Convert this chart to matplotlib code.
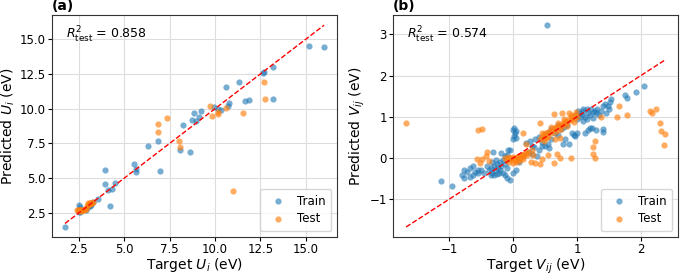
import matplotlib
matplotlib.use("Agg")
import matplotlib.pyplot as plt
import numpy as np

# --- (a) Hubbard U_i ---
u_train_true = [1.75, 2.5, 2.55, 2.5, 2.6, 2.7, 2.9, 3.0, 3.1, 3.2, 3.3, 3.55, 3.95, 3.95,
                4.22, 4.13, 4.31, 4.5, 5.54, 5.67, 5.67, 6.32, 6.85, 6.97, 8.1, 8.24,
                8.64, 8.71, 8.84, 8.93, 9.13, 9.24, 9.96, 10.16, 10.35, 10.63, 10.69,
                10.78, 11.32, 11.63, 11.87, 12.64, 12.7, 13.17, 13.19, 15.18, 16.0]
u_train_pred = [1.5, 3.06, 2.9, 2.6, 2.55, 2.7, 2.75, 2.95, 3.0, 3.1, 3.3, 3.54, 5.59, 4.6,
                2.98, 4.14, 4.24, 4.68, 6.05, 5.69, 5.45, 7.34, 7.7, 5.52, 7.02, 8.83,
                6.92, 9.22, 9.68, 9.1, 9.39, 9.8, 10.1, 10.0, 9.9, 11.59, 10.19,
                10.4, 11.95, 10.55, 10.62, 12.6, 12.65, 12.99, 10.67, 14.54, 14.44]
u_test_true = [2.4, 2.45, 2.5, 2.55, 2.6, 2.65, 2.7, 2.75, 2.8, 2.85, 2.9, 2.95, 3.0,
               3.05, 3.1, 3.15, 3.2, 3.25, 3.3, 3.0, 3.1, 2.6, 6.85, 6.85, 7.34, 8.04,
               8.1, 9.75, 9.86, 10.16, 10.16, 10.58, 11.0, 11.54, 12.7, 12.75]
u_test_pred = [2.7, 2.72, 2.65, 2.7, 2.7, 2.68, 2.72, 2.7, 2.75, 2.8, 2.78, 3.0, 3.1,
               3.15, 3.2, 3.15, 3.25, 3.2, 3.3, 3.2, 3.25, 2.75, 8.9, 8.35, 9.32, 7.7,
               7.26, 10.19, 9.51, 9.75, 9.63, 10.07, 4.12, 9.68, 11.95, 10.67]
u_r2 = 0.858

# --- (b) intersite V_ij ---
v_train_true = [0.53, 2.05, 1.92, 1.75, 1.79, 1.54, 1.51, 1.49,
                -1.13, -0.96,
                -0.77, -0.72, -0.67, -0.62, -0.59, -0.54, -0.77, -0.67, -0.62, -0.8, -0.55, -0.5,
                -0.38, -0.35, -0.33, -0.3, -0.28, -0.25, -0.23, -0.2, -0.18, -0.15, -0.32, -0.27,
                -0.22, -0.4, -0.45, -0.12, -0.1, -0.3, -0.2, -0.15, -0.35, -0.25,
                -0.31, -0.18, -0.13, -0.1, -0.05,
                -0.13, -0.1, -0.05, 0.0, 0.05,
                0.02, 0.05, 0.02, 0.04, 0.0, 0.03, 0.0, -0.08,
                0.2, 0.26, 0.33, 0.41, 0.38, 0.1, 0.15, 0.25, 0.3, 0.35, 0.4, 0.45, 0.5, 0.3,
                0.46, 0.56, 0.5, 0.55, 0.6, 0.65, 0.7, 0.75, 0.8, 0.85, 0.6, 0.7, 0.55,
                0.92, 0.97, 0.87, 0.82, 0.78,
                1.02, 1.05, 1.08, 1.1, 1.12, 1.15, 1.18, 1.2, 1.22, 1.25, 1.28, 1.3, 1.32,
                1.35, 1.38, 1.4, 1.44, 1.0, 1.05, 0.98, 1.15, 1.25, 1.45, 1.5, 1.1,
                1.1, 1.2, 1.3, 1.41, 1.23, 1.18, 1.41, 1.12, 1.0, 0.95]
v_train_pred = [3.22, 1.74, 1.61, 1.53, 1.45, 1.43, 1.35, 1.26,
                -0.55, -0.67,
                -0.29, -0.33, -0.25, -0.2, -0.33, -0.37, -0.49, -0.45, -0.41, -0.4, -0.28, -0.3,
                -0.3, -0.25, -0.35, -0.2, -0.3, -0.15, -0.25, -0.1, -0.2, -0.05, -0.1, -0.05,
                -0.35, -0.2, -0.35, -0.15, -0.25, -0.4, -0.3, -0.35, -0.42, -0.38,
                0.14, 0.12, 0.04, 0.08, 0.19,
                -0.41, -0.49, -0.53, -0.37, -0.29,
                0.73, 0.65, 0.53, 0.49, 0.69, 0.61, 0.45, 0.2,
                0.37, 0.41, 0.28, 0.2, 0.04, -0.1, 0.05, 0.15, 0.3, 0.45, 0.5, 0.4, 0.55, 0.1,
                0.29, 0.25, 0.3, 0.35, 0.45, 0.6, 0.55, 0.7, 0.75, 0.8, 0.7, 0.8, 0.6,
                0.61, 0.53, 0.33, 0.45, 0.35,
                1.14, 1.1, 1.05, 1.15, 1.0, 1.2, 1.1, 1.05, 1.2, 1.12, 1.15, 1.1, 1.2,
                1.05, 1.15, 1.25, 1.31, 0.95, 1.0, 1.05, 0.95, 0.98, 1.1, 1.2, 1.2,
                0.9, 0.73, 0.69, 0.71, 0.74, 0.69, 0.64, 0.6, 0.6, 0.55]
v_test_true = [-1.67, -0.55, -0.48,
               -0.4, -0.42, -0.48, -0.56, -0.51, -0.37,
               -0.12, -0.1, -0.08, -0.05, -0.03, 0.0, 0.02, 0.04, 0.06, 0.08, 0.1, 0.12,
               0.14, 0.16, 0.18, 0.2, 0.22, 0.24, -0.06, 0.05, 0.1, 0.0, 0.15,
               0.15, 0.2, 0.3, 0.28, 0.35, 0.42, 0.45, 0.32,
               0.42, 0.45, 0.48, 0.5, 0.52, 0.55, 0.58, 0.6, 0.62, 0.65, 0.68, 0.7, 0.72,
               0.75, 0.78, 0.8, 0.82, 0.85, 0.88, 0.9, 0.92, 0.95, 0.97, 1.0, 0.45, 0.5,
               0.55, 0.6, 0.65, 0.7, 0.75, 0.8, 0.85, 0.9, 0.95, 0.98, 0.88, 0.48,
               0.42, 0.64, 0.77, 0.66, 0.74, 0.69, 0.74, 0.64, 0.9, 0.55,
               1.28, 1.25, 1.25, 1.28, 1.38, 1.62, 1.66, 1.79,
               2.14, 2.18, 2.23, 2.3, 2.31, 2.38, 2.36]
v_test_pred = [0.84, 0.68, 0.71,
               0.14, 0.06, -0.02, -0.02, -0.12, -0.08,
               0.0, -0.05, 0.02, -0.03, 0.0, 0.02, -0.05, 0.0, 0.03, -0.02, 0.05, 0.0,
               0.08, 0.05, 0.1, 0.12, 0.08, 0.15, -0.1, -0.1, -0.08, -0.12, -0.03,
               0.61, 0.33, 0.2, -0.1, -0.12, -0.15, -0.02, 0.08,
               0.45, 0.5, 0.55, 0.6, 0.52, 0.62, 0.65, 0.6, 0.7, 0.72, 0.75, 0.68, 0.8,
               0.78, 0.85, 0.82, 0.9, 0.88, 0.95, 0.92, 1.0, 0.98, 1.05, 1.0, 0.6, 0.48,
               0.5, 0.75, 0.62, 0.85, 0.7, 0.95, 0.78, 1.05, 0.88, 1.12, 1.1, 0.42,
               0.86, 1.06, 1.1, 0.45, 0.49, 0.1, 0.0, -0.12, 0.0, 0.08,
               0.42, 0.28, 0.1, 0.0, 1.0, 1.0, 1.25, 1.04,
               1.13, 1.1, 1.18, 0.86, 0.65, 0.59, 0.31]
v_r2 = 0.574

panels = [
    ("(a)", u_train_true, u_train_pred, u_test_true, u_test_pred, u_r2,
     "Target $U_i$ (eV)", "Predicted $U_i$ (eV)"),
    ("(b)", v_train_true, v_train_pred, v_test_true, v_test_pred, v_r2,
     "Target $V_{ij}$ (eV)", "Predicted $V_{ij}$ (eV)"),
]

fig = plt.figure(figsize=(6.85, 2.75), dpi=100)
ax_a = fig.add_axes([0.076, 0.138, 0.416, 0.807])
ax_b = fig.add_axes([0.574, 0.138, 0.416, 0.807])

for ax, (tag, xt, yt, xs, ys, r2, xl, yl) in zip([ax_a, ax_b], panels):
    ax.grid(True, color="#dddddd", linewidth=0.8, zorder=0)
    ax.set_axisbelow(True)
    ax.scatter(xt, yt, s=20, color="tab:blue", alpha=0.6, linewidths=0,
               label="Train", zorder=2)
    ax.scatter(xs, ys, s=20, color="tab:orange", alpha=0.65, linewidths=0,
               label="Test", zorder=3)
    allx = np.array(xt + xs)
    lo, hi = allx.min(), allx.max()
    ax.plot([lo, hi], [lo, hi], "r--", linewidth=1.0, zorder=4)
    ax.set_xlabel(xl, fontsize=10, labelpad=0)
    ax.set_ylabel(yl, fontsize=10, labelpad=2)
    ax.tick_params(labelsize=8.5, length=3, pad=1.5)
    ax.text(0.05, 0.91, r"$R^2_{\rm test}$ = " + f"{r2:.3f}",
            transform=ax.transAxes, fontsize=9, va="center", ha="left")
    ax.text(0.0, 1.01, tag, transform=ax.transAxes, fontsize=10,
            fontweight="bold", va="bottom", ha="left")
    ax.legend(loc="lower right", fontsize=8.5, handletextpad=0.6,
              borderpad=0.5, labelspacing=0.4, markerscale=1.0)
    for sp in ax.spines.values():
        sp.set_color("#333333")
        sp.set_linewidth(0.8)

ax_a.set_xticks([2.5, 5.0, 7.5, 10.0, 12.5, 15.0])
ax_a.set_yticks([2.5, 5.0, 7.5, 10.0, 12.5, 15.0])
ax_b.set_xticks([-1, 0, 1, 2])
ax_b.set_yticks([-1, 0, 1, 2, 3])

fig.savefig("out.png", dpi=100)
plt.close(fig)
